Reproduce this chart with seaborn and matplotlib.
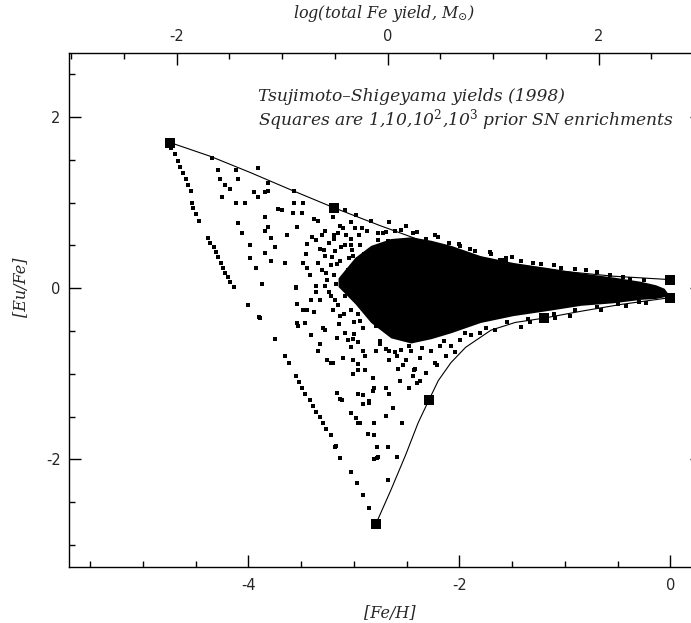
import numpy as np
import pandas as pd
import matplotlib
matplotlib.use("Agg")
import matplotlib.pyplot as plt
import seaborn as sns
from matplotlib.ticker import MultipleLocator, FixedLocator

# ---------------- data ----------------
# model envelope curves
upper_x = [-4.74, -4.36, -3.98, -3.60, -3.19, -2.75, -2.37, -1.99, -1.59, -1.04, -0.54, 0.00]
upper_y = [1.70, 1.54, 1.35, 1.15, 0.94, 0.73, 0.56, 0.42, 0.30, 0.20, 0.14, 0.10]
lower_x = [-2.79, -2.65, -2.51, -2.39, -2.29, -2.20, -2.08, -1.94, -1.70, -1.47, -1.20, -0.85, -0.47, 0.00]
lower_y = [-2.75, -2.36, -1.95, -1.57, -1.31, -1.08, -0.87, -0.69, -0.49, -0.40, -0.35, -0.27, -0.19, -0.11]

# squares: 1, 10, 10^2, 10^3 prior SN enrichments
sq_upper_x = [-4.74, -3.19, -1.59, 0.00]
sq_upper_y = [1.70, 0.94, 0.30, 0.10]
sq_lower_x = [-2.79, -2.29, -1.20, 0.00]
sq_lower_y = [-2.75, -1.31, -0.35, -0.11]

# dense (saturated) core of the simulated stars
core_x = [-3.15, -2.99, -2.84, -2.65, -2.46, -2.27, -2.08, -1.80, -1.49, -1.16, -0.85, -0.54, -0.28, -0.14, -0.06, -0.03]
core_hi = [0.12, 0.36, 0.50, 0.58, 0.60, 0.56, 0.50, 0.38, 0.30, 0.24, 0.18, 0.13, 0.08, 0.04, 0.00, -0.05]
core_lo = [0.02, -0.18, -0.40, -0.58, -0.64, -0.59, -0.52, -0.40, -0.32, -0.26, -0.20, -0.17, -0.13, -0.12, -0.10, -0.06]

# first-generation branch of stars
branch_x = [-4.73, -4.70, -4.67, -4.65, -4.62, -4.59, -4.57, -4.54,
            -4.53, -4.52, -4.50, -4.47,
            -4.38, -4.36, -4.33, -4.31, -4.29, -4.26, -4.24, -4.22, -4.19, -4.17, -4.14,
            -4.00, -3.90, -3.75, -3.65, -3.61,
            -3.55, -3.52, -3.49, -3.46, -3.42, -3.39, -3.36, -3.32, -3.29, -3.26, -3.22,
            -3.18, -3.13, -3.03, -2.97, -2.91, -2.86]
branch_y = [1.64, 1.57, 1.49, 1.42, 1.35, 1.28, 1.21, 1.14,
            1.00, 0.94, 0.87, 0.79,
            0.59, 0.53, 0.48, 0.42, 0.36, 0.30, 0.24, 0.18, 0.13, 0.07, 0.01,
            -0.20, -0.34, -0.59, -0.79, -0.87,
            -1.02, -1.09, -1.16, -1.23, -1.30, -1.37, -1.44, -1.51, -1.58, -1.65, -1.72,
            -1.86, -1.98, -2.15, -2.28, -2.42, -2.57]

# sparse stars above the cloud
upfr_x = [-4.34, -4.29, -4.27, -4.22, -4.17, -4.25, -4.12, -4.10, -4.12, -4.03, -3.91, -3.81,
          -3.81, -3.95, -3.91, -3.84, -3.57, -3.72, -3.68, -3.57, -3.48, -3.58, -3.49, -3.84,
          -4.10, -4.06, -3.81, -3.84, -3.79, -3.98, -3.75, -3.65, -3.84, -3.79, -3.98, -3.93,
          -3.87, -3.63, -3.54, -3.44, -3.38, -3.34, -3.20, -3.03, -3.27, -3.44]
upfr_y = [1.52, 1.38, 1.28, 1.20, 1.16, 1.06, 1.38, 1.28, 1.00, 1.00, 1.40, 1.23,
          1.14, 1.12, 1.06, 1.12, 1.14, 0.93, 0.91, 1.00, 1.00, 0.88, 0.88, 0.83,
          0.76, 0.64, 0.71, 0.67, 0.59, 0.50, 0.48, 0.29, 0.41, 0.32, 0.35, 0.23,
          0.05, 0.62, 0.71, 0.52, 0.81, 0.79, 0.83, 0.77, 0.67, 0.24]

# stars between the upper model curve and the core
edge_x = [-3.13, -2.98, -2.92, -2.84, -2.77, -2.67, -2.61, -2.51, -2.44, -2.32, -2.23, -2.10,
          -1.99, -1.85, -1.71, -1.56, -1.42, -1.23, -1.04, -0.80, -0.57, -0.38, -3.08, -3.19, -3.03,
          -2.70, -2.55, -2.40, -2.20, -2.00, -1.90, -1.70, -1.50, -1.30, -1.10, -0.90, -0.70,
          -0.45, -0.25]
edge_y = [0.73, 0.85, 0.70, 0.79, 0.65, 0.77, 0.67, 0.73, 0.65, 0.58, 0.62, 0.53,
          0.49, 0.44, 0.42, 0.35, 0.32, 0.28, 0.23, 0.21, 0.15, 0.11, 0.91, 0.58, 0.50,
          0.66, 0.68, 0.66, 0.60, 0.52, 0.46, 0.40, 0.36, 0.30, 0.27, 0.22, 0.19,
          0.13, 0.09]

# left part of the cloud (dotted, not saturated)
left_x = [-3.36, -3.32, -3.34, -3.30, -3.27, -3.24, -3.22, -3.19, -3.18, -3.15, -3.13, -3.11,
          -3.08, -3.06, -3.03, -3.01, -2.98, -2.97, -2.94, -2.92, -2.90, -2.88, -2.86, -2.84,
          -2.82, -2.80, -2.79, -2.77, -2.75, -2.72, -2.70, -2.67, -2.63, -2.59, -2.53, -2.48,
          -2.43, -2.37, -2.21, -3.27, -3.18, -3.08, -3.03, -2.94, -3.13, -3.22, -2.98, -2.89,
          -3.08, -3.36, -3.32,
          -3.40, -3.45, -3.42, -3.30, -3.25, -3.20, -3.10, -3.05, -2.95, -2.90, -2.85, -2.80,
          -2.75, -2.72, -2.68, -3.00, -2.93, -3.15, -3.36, -3.48,
          -3.28, -3.26, -3.24, -3.21, -3.19, -3.17, -3.16, -3.14, -3.12, -3.10, -3.09, -3.07,
          -3.05, -3.04, -3.02, -3.00, -2.99, -2.97, -2.96, -2.94]
left_y = [0.56, 0.46, 0.30, 0.21, 0.38, 0.53, 0.27, 0.15, 0.44, 0.65, 0.32, 0.03,
          0.50, 0.21, 0.58, 0.38, -0.03, 0.15, 0.50, -0.14, 0.30, 0.67, 0.03, -0.26,
          0.44, 0.21, -0.44, 0.56, -0.09, 0.65, -0.32, -0.73, -0.55, -0.79, -0.90, -0.67,
          -0.96, -1.08, -0.90, 0.03, -0.14, -0.09, -0.26, -0.38, -0.32, -0.09, 0.26, 0.09,
          0.09, 0.03, -0.14,
          0.60, 0.40, 0.15, 0.62, 0.10, -0.25, 0.70, 0.35, 0.62, 0.40, 0.20, -0.10,
          0.35, -0.30, 0.55, 0.10, -0.20, -0.20, -0.05, 0.30,
          0.45, 0.18, -0.05, 0.36, 0.62, 0.05, 0.28, -0.42, 0.48, 0.12, -0.30, 0.62,
          -0.05, 0.22, 0.45, -0.40, 0.70, 0.30, -0.30, 0.08]

# sparse stars below the cloud
lowfr_x = [-3.55, -3.41, -3.44, -3.38, -3.46, -3.29, -3.32, -3.34, -3.54, -3.89, -3.25, -3.20,
           -3.10, -3.06, -3.16, -3.00, -2.91, -2.75, -2.91, -3.55, -3.54, -3.48, -3.53, -3.41,
           -3.27, -3.22, -3.08, -3.01, -3.03, -2.96, -3.01, -2.96, -2.89, -2.96, -2.89, -3.01,
           -2.82, -2.96, -2.91, -2.81, -3.16, -3.13, -3.03, -2.98, -2.96, -2.87, -2.81, -2.81,
           -2.86, -3.17, -2.78, -2.78, -3.11, -2.91, -2.86, -2.82, -2.94, -2.70, -2.63, -2.54,
           -2.67, -2.70, -2.48, -2.40, -2.68, -2.81, -2.77, -2.59, -2.68]
lowfr_y = [0.01, -0.14, -0.26, -0.28, -0.41, -0.47, -0.65, -0.73, -0.41, -0.35, -0.84, -0.87,
           -0.81, -0.61, -0.58, -0.53, -0.73, -0.65, -0.46, 0.00, -0.18, -0.26, -0.44, -0.55,
           -0.49, -0.87, -0.52, -0.59, -0.69, -0.63, -0.84, -0.88, -0.79, -0.96, -0.96, -1.00,
           -1.05, -1.23, -1.25, -1.17, -1.22, -1.29, -1.46, -1.52, -1.57, -1.70, -1.72, -1.57,
           -1.34, -1.84, -1.86, -1.98, -1.31, -1.35, -1.32, -1.20, -1.57, -1.49, -1.40, -1.58,
           -1.23, -1.16, -1.17, -1.11, -1.86, -2.00, -1.97, -1.97, -2.24]

# stars between the core and the lower model curve
gap_x = [-2.61, -2.51, -2.42, -2.46, -2.37, -2.27, -2.18, -2.32, -2.23, -2.08, -1.99, -2.13,
         -2.58, -2.67, -2.56, -2.44, -1.89, -1.80, -2.04, -2.70, -2.79,
         -1.66, -1.42, -1.33, -1.09, -0.95, -0.66, -0.42, -0.23,
         -2.75, -2.55, -2.35, -2.15, -1.95, -1.75, -1.55, -1.35, -1.10, -0.90, -0.70, -0.50, -0.30]
gap_y = [-0.75, -0.84, -0.94, -0.73, -0.82, -0.73, -0.67, -0.99, -0.87, -0.67, -0.61, -0.79,
         -0.94, -0.84, -1.08, -1.03, -0.55, -0.52, -0.75, -0.71, -0.73,
         -0.49, -0.45, -0.40, -0.35, -0.33, -0.26, -0.21, -0.17,
         -0.62, -0.72, -0.70, -0.62, -0.52, -0.47, -0.40, -0.36, -0.30, -0.25, -0.22, -0.19, -0.16]

# tick values
x_major = [-4, -2, 0]
y_major = [-2, 0, 2]
top_major = [-2, 0, 2]
top_offset = 2.68  # log(total Fe yield) - [Fe/H]

# ---------------- styling ----------------
sns.set_style("ticks")
plt.rcParams['font.family'] = ['DejaVu Sans']
plt.rcParams['mathtext.fontset'] = 'dejavuserif'
plt.rcParams['axes.unicode_minus'] = False

fig = plt.figure(figsize=(6.91, 6.23), dpi=100)
ax = fig.add_axes([69 / 691, (623 - 566.5) / 623, 633 / 691, 513.8 / 623])

stars = pd.DataFrame({
    "feh": np.concatenate([branch_x, upfr_x, edge_x, left_x, lowfr_x, gap_x]),
    "eufe": np.concatenate([branch_y, upfr_y, edge_y, left_y, lowfr_y, gap_y]),
})

ax.fill_between(core_x, core_lo, core_hi, color="black", linewidth=0, zorder=2)
sns.scatterplot(data=stars, x="feh", y="eufe", marker="s", s=6.5, color="black",
                linewidth=0, ax=ax, zorder=3)

sns.lineplot(x=upper_x, y=upper_y, sort=False, estimator=None, color="black",
             linewidth=0.8, ax=ax, zorder=4)
sns.lineplot(x=lower_x, y=lower_y, sort=False, estimator=None, color="black",
             linewidth=0.8, ax=ax, zorder=4)
sns.scatterplot(x=sq_upper_x + sq_lower_x, y=sq_upper_y + sq_lower_y, marker="s", s=48,
                color="black", linewidth=0, ax=ax, zorder=5)

ax.set_xlim(-5.7, 0.3)
ax.set_ylim(-3.25, 2.75)
ax.xaxis.set_major_locator(FixedLocator(x_major))
ax.xaxis.set_minor_locator(MultipleLocator(0.5))
ax.yaxis.set_major_locator(FixedLocator(y_major))
ax.yaxis.set_minor_locator(MultipleLocator(0.5))
ax.tick_params(which="both", direction="in", left=True, right=True, bottom=True, top=False,
               width=1, color="black")
ax.tick_params(which="major", length=8.5)
ax.tick_params(which="minor", length=4.2)
ax.tick_params(axis="x", which="major", pad=8.5, labelsize=10.5)
ax.tick_params(axis="y", which="major", pad=6, labelsize=10.5)
for sp in ax.spines.values():
    sp.set_linewidth(1)
    sp.set_color("black")

ax2 = ax.twiny()
ax2.set_xlim(-5.7 + top_offset, 0.3 + top_offset)
ax2.xaxis.set_major_locator(FixedLocator(top_major))
ax2.xaxis.set_minor_locator(MultipleLocator(0.5))
ax2.tick_params(which="both", direction="in", top=True, bottom=False, width=1, color="black")
ax2.tick_params(which="major", length=8.5, pad=6, labelsize=10.5)
ax2.tick_params(which="minor", length=4.2)
for sp in ax2.spines.values():
    sp.set_visible(False)

lab = dict(family="DejaVu Serif", style="italic", fontsize=11.5)
ax.set_xlabel("[Fe/H]", **lab)
ax.xaxis.set_label_coords(0.507, -0.075)
ax.set_ylabel("[Eu/Fe]", **lab)
ax.yaxis.set_label_coords(-0.0616, 0.544)
ax2.set_xlabel(r"log(total Fe yield, $M_{\odot}$)", **lab)
ax2.xaxis.set_label_coords(0.4975, 1.0675)

ax.text(-3.91, 2.24, "Tsujimoto–Shigeyama yields (1998)", ha="left", va="center",
        family="DejaVu Serif", style="italic", fontsize=12.3)
ax.text(-3.91, 1.96, r"Squares are 1,10,10$^2$,10$^3$ prior SN enrichments", ha="left",
        va="center", family="DejaVu Serif", style="italic", fontsize=12.3)

fig.savefig("out.png", dpi=100)
